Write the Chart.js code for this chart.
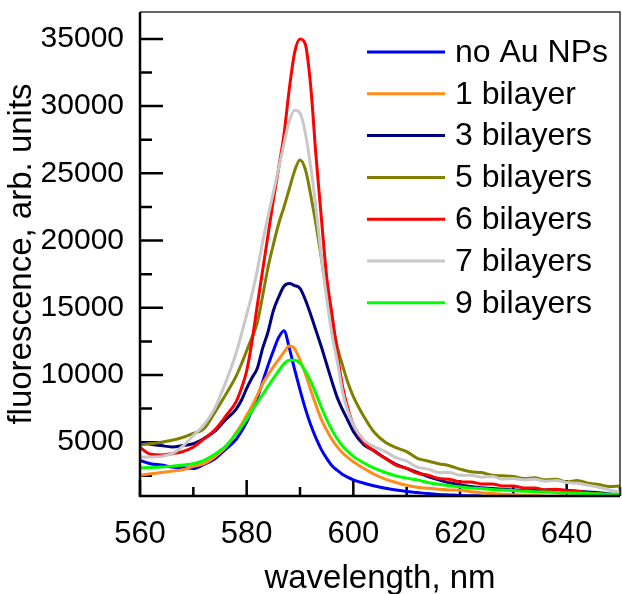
<!DOCTYPE html>
<html>
<head>
<meta charset="utf-8">
<script src="https://cdn.jsdelivr.net/npm/chart.js@4.4.0/dist/chart.umd.min.js"></script>
<style>
  html, body { margin: 0; padding: 0; background: #fff; }
  canvas { display: block; }
</style>
</head>
<body>
<canvas id="chart" width="622" height="594"></canvas>
<script>
// wavelength, nm
var wavelength = [560, 562, 564, 566, 568, 570, 572, 574, 576, 578,
	579, 580, 581, 582, 583, 584, 585, 586, 587, 588, 589, 590, 591, 592, 593, 594, 595, 596, 597, 598, 599, 600,
	602, 604, 606, 608, 610, 612, 614, 616, 618, 620, 622, 624, 626, 628, 630, 632, 634, 636, 638, 640, 642, 644, 646, 648, 650];

// fluorescence, arb. units
var noAuNPs = [3650, 3400, 3300, 3150, 3100, 3050, 3350, 3750, 4450, 5200,
	5800, 6500, 7400, 8300, 9500, 10700, 11800, 12800, 13300, 12000, 10400, 8900, 7500, 6300, 5300, 4450, 3800, 3250, 2900, 2600, 2380, 2200,
	1950, 1750, 1580, 1450, 1340, 1260, 1180, 1120, 1080, 1040, 1020, 1000, 980, 970, 960, 950, 950, 940, 940, 930, 930, 920, 920, 910, 910];
var bilayer1 = [2550, 2650, 2750, 2850, 2950, 3200, 3400, 3900, 4600, 5700,
	6300, 7000, 7700, 8500, 9350, 10000, 10600, 11150, 11700, 12150, 11950, 11100, 10100, 8900, 7750, 6700, 5900, 5200, 4650, 4200, 3850, 3550,
	3050, 2600, 2250, 2000, 1800, 1650, 1570, 1500, 1450, 1420, 1320, 1250, 1180, 1130, 1090, 1060, 1030, 1000, 990, 980, 970, 960, 950, 950, 940];
var bilayers3 = [5000, 4850, 4750, 4650, 4750, 4900, 5280, 5800, 6650, 7450,
	8100, 9000, 9800, 10500, 12000, 13200, 14780, 15800, 16600, 16800, 16650, 16450, 15600, 14500, 13300, 12100, 10800, 9500, 8300, 7400, 6600, 5800,
	4800, 4350, 3800, 3350, 3050, 2750, 2450, 2200, 1980, 1820, 1700, 1620, 1550, 1500, 1450, 1420, 1430, 1450, 1470, 1420, 1350, 1300, 1250, 1150, 1080];
var bilayers5 = [4800, 4900, 5000, 5150, 5350, 5650, 6000, 7200, 8500, 9900,
	10800, 11800, 12800, 13900, 15900, 18000, 19700, 21250, 22500, 23850, 25200, 26000, 25300, 23400, 21200, 18700, 16100, 14000, 12100, 10700, 9400, 8400,
	6900, 5700, 5000, 4600, 4300, 3800, 3600, 3400, 3250, 3000, 2800, 2750, 2550, 2500, 2450, 2300, 2350, 2200, 2250, 2050, 2150, 1950, 1850, 1700, 1750];
var bilayers6 = [4600, 4100, 4050, 4150, 4300, 4650, 5250, 5900, 6900, 8000,
	9000, 10300, 12500, 15200, 17800, 20400, 23000, 25400, 27900, 31300, 34000, 35000, 34600, 31500, 26300, 21700, 17300, 14500, 11600, 9100, 7500, 6300,
	5000, 4300, 3800, 3300, 3050, 2700, 2550, 2300, 2250, 2050, 2050, 1900, 1900, 1750, 1750, 1600, 1600, 1450, 1500, 1400, 1350, 1250, 1150, 1100, 1050];
var bilayers7 = [3900, 3900, 3950, 4150, 4700, 5500, 6300, 7500, 9400, 11600,
	13000, 14500, 16000, 17800, 19900, 21800, 23560, 25400, 27200, 28900, 29700, 29500, 28000, 25500, 22400, 18800, 15700, 13000, 11000, 8700, 7300, 6300,
	5150, 4650, 4300, 3850, 3600, 3150, 3000, 2750, 2750, 2550, 2550, 2400, 2450, 2250, 2300, 2200, 2250, 2100, 2150, 2000, 1950, 1800, 1650, 1450, 1250];
var bilayers9 = [3100, 3120, 3150, 3220, 3300, 3400, 3650, 4100, 4700, 5600,
	6150, 6700, 7350, 7950, 8550, 9150, 9750, 10300, 10850, 11100, 11100, 10870, 10300, 9550, 8600, 7600, 6700, 5900, 5250, 4700, 4300, 3950,
	3450, 3050, 2750, 2500, 2330, 2200, 2000, 1870, 1760, 1680, 1600, 1550, 1480, 1440, 1400, 1360, 1320, 1290, 1260, 1230, 1200, 1180, 1160, 1130, 1120];

var seriesNames = ['no Au NPs', '1 bilayer', '3 bilayers', '5 bilayers', '6 bilayers', '7 bilayers', '9 bilayers'];
var seriesValues = [noAuNPs, bilayer1, bilayers3, bilayers5, bilayers6, bilayers7, bilayers9];
var seriesColors = ['#0000ff', '#ff8c1a', '#000080', '#808000', '#ff0000', '#c8c8c8', '#00ff00'];

var xMajorTicks = [560, 580, 600, 620, 640];
var xMinorTicks = [570, 590, 610, 630, 650];
var yMajorTicks = [5000, 10000, 15000, 20000, 25000, 30000, 35000];
var yMinorTicks = [2500, 7500, 12500, 17500, 22500, 27500, 32500];

var FONT = '"Liberation Sans", Arial, sans-serif';

function buildDatasets() {
	var sets = [];
	for (var i = 0; i < seriesValues.length; i++) {
		var pts = [];
		for (var j = 0; j < wavelength.length; j++) {
			pts.push({x: wavelength[j], y: seriesValues[i][j]});
		}
		sets.push({
			label: seriesNames[i],
			data: pts,
			borderColor: seriesColors[i],
			backgroundColor: seriesColors[i],
			borderWidth: 3,
			pointRadius: 0,
			cubicInterpolationMode: 'monotone',
			order: seriesValues.length - i
		});
	}
	return sets;
}

// inward tick marks, drawn under the curves
var tickMarks = {
	id: 'tickMarks',
	beforeDatasetsDraw: function(chart) {
		var ctx = chart.ctx, a = chart.chartArea, xs = chart.scales.x, ys = chart.scales.y;
		ctx.save();
		ctx.strokeStyle = '#000';
		ctx.lineWidth = 2.5;
		ctx.beginPath();
		xMajorTicks.forEach(function(v) { var p = xs.getPixelForValue(v); ctx.moveTo(p, a.bottom); ctx.lineTo(p, a.bottom - 16); });
		xMinorTicks.forEach(function(v) { var p = xs.getPixelForValue(v); ctx.moveTo(p, a.bottom); ctx.lineTo(p, a.bottom - 9); });
		yMajorTicks.forEach(function(v) { var p = ys.getPixelForValue(v); ctx.moveTo(a.left, p); ctx.lineTo(a.left + 23, p); });
		yMinorTicks.forEach(function(v) { var p = ys.getPixelForValue(v); ctx.moveTo(a.left, p); ctx.lineTo(a.left + 12, p); });
		ctx.stroke();
		ctx.restore();
	}
};

// axis frame on top of the curves
var frame = {
	id: 'frame',
	afterDatasetsDraw: function(chart) {
		var ctx = chart.ctx, a = chart.chartArea;
		ctx.save();
		ctx.strokeStyle = '#333';
		ctx.lineWidth = 1.5;
		ctx.beginPath();
		ctx.moveTo(a.left, a.top); ctx.lineTo(a.right, a.top); ctx.lineTo(a.right, a.bottom);
		ctx.stroke();
		ctx.strokeStyle = '#000';
		ctx.lineWidth = 2.5;
		ctx.beginPath();
		ctx.moveTo(a.left, a.top); ctx.lineTo(a.left, a.bottom); ctx.lineTo(a.right, a.bottom);
		ctx.stroke();
		ctx.restore();
	}
};

// legend inside the plot, top right
var innerLegend = {
	id: 'innerLegend',
	afterDraw: function(chart) {
		var ctx = chart.ctx;
		ctx.save();
		ctx.font = '32px ' + FONT;
		ctx.textBaseline = 'middle';
		ctx.textAlign = 'left';
		chart.data.datasets.forEach(function(ds, i) {
			var y = 52 + i * 41.8;
			ctx.strokeStyle = ds.borderColor;
			ctx.lineWidth = 3;
			ctx.beginPath();
			ctx.moveTo(367, y);
			ctx.lineTo(445, y);
			ctx.stroke();
			ctx.fillStyle = '#000';
			ctx.fillText(ds.label, 455, y + 1);
		});
		ctx.restore();
	}
};

new Chart(document.getElementById('chart'), {
	type: 'line',
	data: { datasets: buildDatasets() },
	options: {
		responsive: false,
		animation: false,
		devicePixelRatio: 1,
		layout: { padding: { top: 12, right: 2, left: 0, bottom: 0 } },
		plugins: { legend: { display: false }, tooltip: { enabled: false } },
		scales: {
			x: {
				type: 'linear',
				min: 560,
				max: 650,
				afterBuildTicks: function(scale) { scale.ticks = xMajorTicks.map(function(v) { return {value: v}; }); },
				afterFit: function(scale) { scale.height = 98; scale.paddingLeft = 0; scale.paddingRight = 0; },
				grid: { display: false },
				border: { display: false },
				ticks: {
					padding: 12,
					color: '#000',
					font: { family: FONT, size: 31 },
					maxRotation: 0,
					callback: function(v) { return String(v); }
				},
				title: {
					display: true,
					text: 'wavelength, nm',
					color: '#000',
					font: { family: FONT, size: 33, lineHeight: 0.9 },
					padding: { top: 0, bottom: 0 }
				}
			},
			y: {
				min: 1000,
				max: 37000,
				afterBuildTicks: function(scale) { scale.ticks = yMajorTicks.map(function(v) { return {value: v}; }); },
				afterFit: function(scale) { scale.width = 140; scale.paddingTop = 0; scale.paddingBottom = 0; },
				grid: { display: false },
				border: { display: false },
				ticks: {
					padding: 8,
					color: '#000',
					font: { family: FONT, size: 30 },
					callback: function(v) { return String(v); }
				},
				title: {
					display: true,
					text: 'fluorescence, arb. units',
					color: '#000',
					font: { family: FONT, size: 33, lineHeight: 1 },
					padding: { top: 5, bottom: 0 }
				}
			}
		}
	},
	plugins: [tickMarks, frame, innerLegend]
});
</script>
</body>
</html>
